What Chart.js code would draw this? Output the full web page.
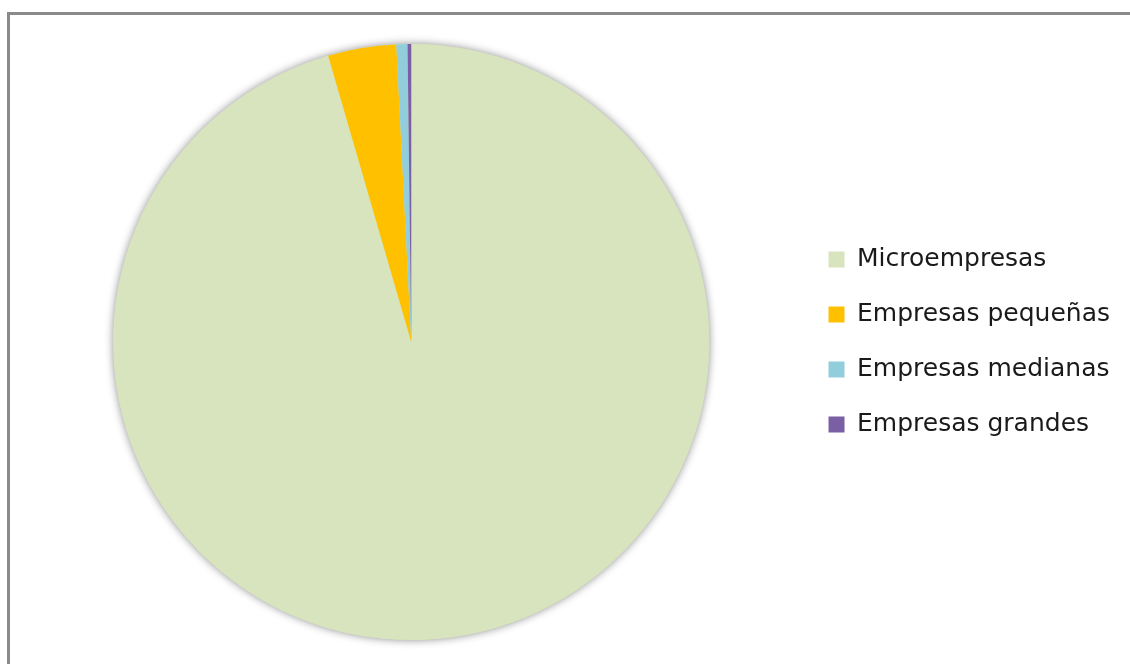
<!DOCTYPE html>
<html>
<head>
<meta charset="utf-8">
<script src="https://cdn.jsdelivr.net/npm/chart.js@4"></script>
<style>
  html, body { margin: 0; padding: 0; background: #fff; overflow: hidden; }
  #marco {
    position: absolute; left: 7px; top: 12px;
    width: 1140px; height: 700px;
    border: 3px solid #8a8a8a;
  }
  #grafico { position: absolute; left: 0; top: 0; }
</style>
</head>
<body>
<div id="marco"></div>
<canvas id="grafico" width="1130" height="664"></canvas>
<script>
// Datos (% de empresas por tamaño)
const categorias = ["Microempresas", "Empresas pequeñas", "Empresas medianas", "Empresas grandes"];
const porcentajes = [95.5, 3.7, 0.6, 0.2];
const colores = ["#d7e4bd", "#ffc000", "#92cddc", "#7b5fa5"];

// Sombra suave alrededor del pastel (como en Excel)
const sombraPastel = {
  id: "sombraPastel",
  beforeDatasetsDraw(chart) {
    const arco = chart.getDatasetMeta(0).data[0];
    if (!arco) return;
    const ctx = chart.ctx;
    ctx.save();
    ctx.shadowColor = "rgba(0,0,0,0.45)";
    ctx.shadowBlur = 8;
    ctx.fillStyle = colores[0];
    ctx.beginPath();
    ctx.arc(arco.x, arco.y, arco.outerRadius, 0, Math.PI * 2);
    ctx.fill();
    ctx.restore();
  }
};

const ctx = document.getElementById("grafico").getContext("2d");
new Chart(ctx, {
  type: "pie",
  data: {
    labels: categorias,
    datasets: [{
      data: porcentajes,
      backgroundColor: colores,
      borderWidth: 0
    }]
  },
  options: {
    responsive: false,
    animation: false,
    layout: { padding: { left: 24, top: 44, bottom: 24, right: 10 } },
    plugins: {
      tooltip: { enabled: false },
      legend: {
        position: "right",
        labels: {
          color: "#1a1a1a",
          font: { family: "DejaVu Sans", size: 25 },
          boxWidth: 16,
          boxHeight: 16,
          padding: 30
        }
      }
    }
  },
  plugins: [sombraPastel]
});
</script>
</body>
</html>
